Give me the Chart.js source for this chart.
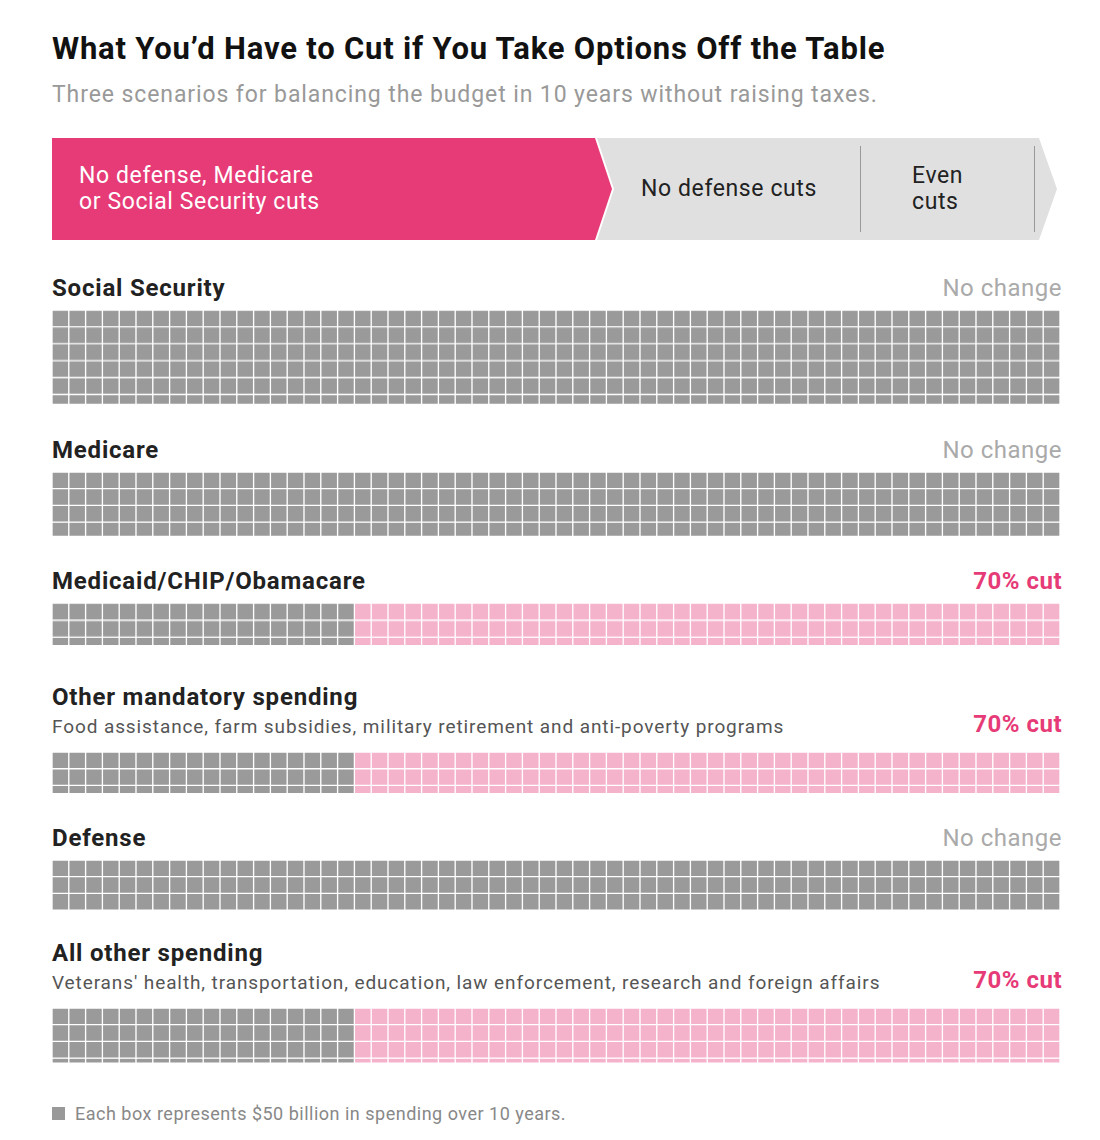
<!DOCTYPE html>
<html>
<head>
<meta charset="utf-8">
<script src="https://cdn.jsdelivr.net/npm/chart.js@4"></script>
<style>
body { margin: 0; background: #fff; font-family: "Roboto", "Liberation Sans", sans-serif; color: #222; }
#wrap { position: relative; width: 1010px; margin-left: 52px; padding-top: 30px; }
h1 { font-size: 31px; font-weight: 700; margin: 0; letter-spacing: 0.8px; color: #111; }
.sub { font-size: 23px; color: #999; margin-top: 14px; letter-spacing: 0.9px; }
.tabs { position: relative; height: 102px; margin-top: 30px; }
.tab { position: absolute; top: 0; height: 102px; display: flex; align-items: center; font-size: 23px; line-height: 26px; letter-spacing: 0.6px; }
.t1 { left: 0; width: 560px; background: #e63b77; color: #fff; padding-left: 27px; box-sizing: border-box;
  clip-path: polygon(0 0, 543px 0, 560px 51px, 543px 102px, 0 102px); }
.t2 { left: 545px; width: 290px; background: #e0e0e0; color: #222; padding-left: 44px; box-sizing: border-box;
  clip-path: polygon(0 0, 273px 0, 290px 51px, 273px 102px, 0 102px, 17px 51px); }
.t3 { left: 817px; width: 188px; background: #e0e0e0; color: #222; padding-left: 43px; box-sizing: border-box;
  clip-path: polygon(0 0, 170px 0, 188px 51px, 170px 102px, 0 102px, 17px 51px); }
.sep { position: absolute; top: 8px; width: 1px; height: 86px; background: #999; }
.sec { position: relative; }
.head { display: flex; justify-content: space-between; align-items: flex-end; }
.name { font-size: 24px; font-weight: 700; color: #222; letter-spacing: 0.8px; }
.note { font-size: 19px; color: #555; margin-top: 4px; letter-spacing: 0.9px; }
.cut { font-size: 24px; font-weight: 700; color: #e63b77; letter-spacing: 0.5px; }
.nc { font-size: 24px; color: #aaa; letter-spacing: 0.5px; }
.foot { font-size: 18px; color: #888; margin-top: 39px; letter-spacing: 0.5px; }
.foot span { display: inline-block; width: 13px; height: 13px; background: #999; margin-right: 10px; }
</style>
</head>
<body>
<div id="wrap">
  <h1>What You’d Have to Cut if You Take Options Off the Table</h1>
  <div class="sub">Three scenarios for balancing the budget in 10 years without raising taxes.</div>
  <div class="tabs">
    <div class="tab t1">No defense, Medicare<br>or Social Security cuts</div>
    <div class="tab t2">No defense cuts</div>
    <div class="tab t3">Even<br>cuts</div>
    <div class="sep" style="left:808px"></div>
    <div class="sep" style="left:982px"></div>
  </div>
  <div id="sections"></div>
  <div class="foot"><span></span>Each box represents $50 billion in spending over 10 years.</div>
</div>
<script>
// categories and their box rows (60 boxes per row, last row partial)
const categories = ['Social Security', 'Medicare', 'Medicaid/CHIP/Obamacare', 'Other mandatory spending', 'Defense', 'All other spending'];
const notes = ['', '', '', 'Food assistance, farm subsidies, military retirement and anti-poverty programs', '', "Veterans' health, transportation, education, law enforcement, research and foreign affairs"];
const rows = [5.6, 3.85, 2.5, 2.5, 3, 3.3];
const cutPct = [0, 0, 70, 70, 0, 70];
const columns = 60;
const topMargin = [34, 32, 31, 38, 31, 29];

const GRAY = '#9a9a9a', PINK = '#f5b2cb';
const ROW_H = 16.7;

const holder = document.getElementById('sections');
categories.forEach((cat, i) => {
  const sec = document.createElement('div');
  sec.className = 'sec';
  sec.style.marginTop = topMargin[i] + 'px';
  const label = cutPct[i] ? `<div class="cut">${cutPct[i]}% cut</div>` : '<div class="nc">No change</div>';
  sec.innerHTML = `<div class="head"><div><div class="name">${cat}</div>${notes[i] ? `<div class="note">${notes[i]}</div>` : ''}</div>${label}</div>`;
  const box = document.createElement('div');
  const h = rows[i] * ROW_H;
  box.style.cssText = `position:relative;width:1008px;height:${h}px;margin-top:${notes[i] ? 14 : 8}px`;
  const cv = document.createElement('canvas');
  box.appendChild(cv);
  sec.appendChild(box);
  holder.appendChild(sec);

  const keep = Math.round(columns * (100 - cutPct[i]) / 100);
  const labels = Array.from({length: columns}, (_, k) => k + 1);
  const colors = labels.map((_, k) => k < keep ? GRAY : PINK);
  const datasets = [];
  for (let r = 0; r < Math.ceil(rows[i]); r++) {
    const v = Math.min(1, rows[i] - r);
    datasets.push({
      data: labels.map(() => v),
      backgroundColor: colors,
      borderColor: '#fff',
      borderWidth: 1,
      borderSkipped: false,
      barPercentage: 1,
      categoryPercentage: 1
    });
  }
  new Chart(cv, {
    type: 'bar',
    data: { labels, datasets },
    options: {
      responsive: true,
      maintainAspectRatio: false,
      animation: false,
      layout: { padding: 0 },
      plugins: { legend: { display: false }, tooltip: { enabled: false } },
      scales: {
        x: { stacked: true, display: false },
        y: { stacked: true, display: false, reverse: true, min: 0, max: rows[i] }
      }
    }
  });
});
</script>
</body>
</html>
